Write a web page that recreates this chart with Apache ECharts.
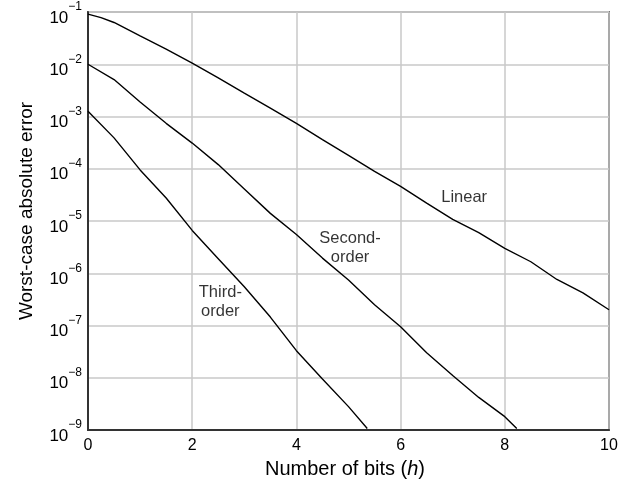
<!DOCTYPE html>
<html><head><meta charset="utf-8">
<script src="https://cdn.jsdelivr.net/npm/echarts@6/dist/echarts.min.js"></script>
<style>html,body{margin:0;padding:0;background:#fff}#c{width:624px;height:486px}</style>
</head><body><div id="c"></div>
<script>
// x positions (number of bits h)
const xLinear = [0, 0.25, 0.5, 1, 1.5, 2, 2.5, 3, 3.5, 4, 4.5, 5, 5.5, 6, 6.5, 7, 7.5, 8, 8.5, 9, 9.5, 10];
const yLinear = [9.1e-2, 7.8e-2, 6.3e-2, 3.5e-2, 1.95e-2, 1.05e-2, 5.5e-3, 2.8e-3, 1.45e-3, 7.4e-4, 3.6e-4, 1.8e-4, 8.9e-5, 4.6e-5, 2.2e-5, 1.07e-5, 6.0e-6, 3.0e-6, 1.66e-6, 7.6e-7, 4.2e-7, 2.0e-7];

const xSecond = [0, 0.5, 1, 1.5, 2, 2.5, 3, 3.5, 4, 4.5, 5, 5.5, 6, 6.5, 7, 7.5, 8, 8.23];
const ySecond = [1.0e-2, 5.1e-3, 1.9e-3, 7.4e-4, 3.1e-4, 1.2e-4, 4.1e-5, 1.4e-5, 5.5e-6, 1.95e-6, 7.4e-7, 2.5e-7, 9.5e-8, 3.0e-8, 1.1e-8, 4.2e-9, 1.8e-9, 1.07e-9];

const xThird = [0, 0.5, 1, 1.5, 2, 2.5, 3, 3.5, 4, 4.5, 5, 5.36];
const yThird = [1.26e-3, 3.9e-4, 9.5e-5, 2.75e-5, 6.6e-6, 1.9e-6, 5.5e-7, 1.45e-7, 3.3e-8, 9.5e-9, 2.8e-9, 1.07e-9];

// curve annotations: text, x, y
const annoText = ['Linear', 'Second-\norder', 'Third-\norder'];
const annoX = [7.22, 5.03, 2.54];
const annoY = [2.8e-5, 3.0e-6, 2.85e-7];

const xTicks = [0, 2, 4, 6, 8, 10];
const yTitle = 'Worst-case absolute error';

const FONT = '"Liberation Sans", Arial, sans-serif';
const zip = (xs, ys) => xs.map((x, i) => [x, ys[i]]);

const chart = echarts.init(document.getElementById('c'), null, {renderer: 'canvas'});
const lineSeries = (name, xs, ys) => ({
  name, type: 'line', data: zip(xs, ys), showSymbol: false, symbol: 'none',
  smooth: false, lineStyle: {color: '#000', width: 1.4}, z: 5
});

chart.setOption({
  animation: false,
  backgroundColor: '#fff',
  grid: {left: 88, top: 12, width: 521, height: 418, show: true, borderColor: '#111', borderWidth: 1.5, containLabel: false, outerBoundsMode: 'none'},
  xAxis: {
    type: 'value', min: xTicks[0], max: xTicks[xTicks.length - 1], interval: 2,
    axisLine: {show: true, lineStyle: {color: '#333', width: 2}},
    axisTick: {show: false},
    splitLine: {show: true, lineStyle: {color: '#c8c8c8', width: 1.5}},
    axisLabel: {color: '#000', fontSize: 16, fontFamily: FONT, margin: 8}
  },
  yAxis: {
    type: 'log', logBase: 10, min: 1e-9, max: 1e-1, interval: 1,
    axisLine: {show: true, onZero: false, lineStyle: {color: '#333', width: 2}},
    axisTick: {show: false},
    minorTick: {show: false},
    splitLine: {show: true, lineStyle: {color: '#c8c8c8', width: 1.5}},
    axisLabel: {
      margin: 6,
      formatter: v => '{b|10}{s|\u2212' + Math.round(-Math.log10(v)) + '}',
      rich: {
        b: {fontSize: 17, fontFamily: FONT, color: '#000', verticalAlign: 'bottom', lineHeight: 17},
        s: {fontSize: 12, fontFamily: FONT, color: '#000', verticalAlign: 'bottom', lineHeight: 29, padding: [0, 0, 13.5, 0]}
      }
    }
  },
  series: [
    lineSeries('Linear', xLinear, yLinear),
    lineSeries('Second-order', xSecond, ySecond),
    lineSeries('Third-order', xThird, yThird),
    {
      type: 'scatter', symbolSize: 0, silent: true, z: 6,
      data: annoText.map((t, i) => ({name: t, value: [annoX[i], annoY[i]]})),
      label: {show: true, position: 'inside', formatter: p => p.name, color: '#000', fontSize: 16.5, fontFamily: FONT, lineHeight: 19, align: 'center', verticalAlign: 'middle'}
    }
  ],
  graphic: [
    {type: 'text', x: 27, y: 211, rotation: Math.PI / 2, style: {text: yTitle, font: '19px ' + FONT, fill: '#000', textAlign: 'center', textVerticalAlign: 'middle'}},
    {type: 'text', x: 345, y: 469, style: {rich: {n: {font: '20px ' + FONT, fill: '#000'}, i: {font: 'italic 20px ' + FONT, fill: '#000'}}, text: '{n|Number of bits (}{i|h}{n|)}', textAlign: 'center', textVerticalAlign: 'middle'}}
  ]
});
</script></body></html>
